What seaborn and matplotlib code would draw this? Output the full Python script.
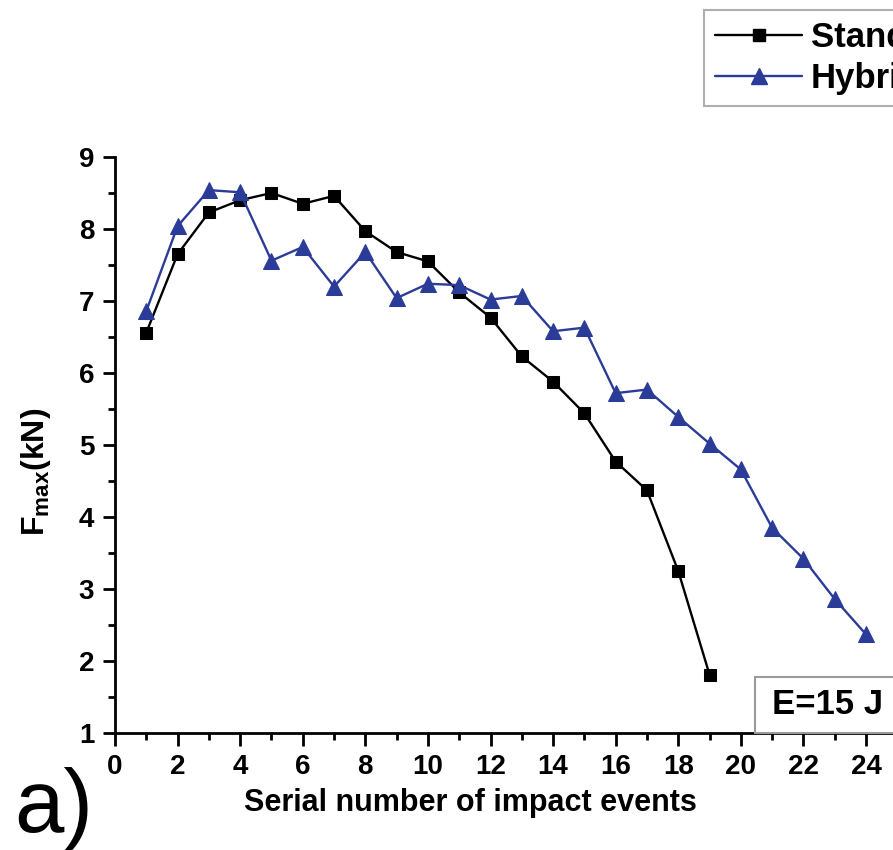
import matplotlib
matplotlib.use("Agg")
import matplotlib.pyplot as plt
import seaborn as sns
import pandas as pd
from matplotlib.patches import Rectangle
from matplotlib.lines import Line2D

# ---- data ----
std_events = list(range(1, 20))
std_fmax = [6.56, 7.65, 8.23, 8.40, 8.50, 8.35, 8.46, 7.97, 7.68, 7.55,
            7.12, 6.77, 6.23, 5.88, 5.44, 4.77, 4.37, 3.25, 1.81]
hyb_events = list(range(1, 25))
hyb_fmax = [6.86, 8.04, 8.54, 8.51, 7.56, 7.75, 7.20, 7.68, 7.04, 7.24,
            7.22, 7.02, 7.07, 6.58, 6.63, 5.72, 5.77, 5.39, 5.02, 4.66,
            3.85, 3.42, 2.86, 2.37]
series_names = ["Standard", "Hybrid"]
x_ticks = list(range(0, 25, 2))
y_ticks = list(range(1, 10))

sns.set_theme(style="ticks")
plt.rcParams["font.family"] = ["Liberation Sans", "DejaVu Sans"]
plt.rcParams["mathtext.fontset"] = "custom"
plt.rcParams["mathtext.rm"] = "Liberation Sans"
plt.rcParams["mathtext.bf"] = "Liberation Sans:bold"
plt.rcParams["text.color"] = "black"
plt.rcParams["axes.labelcolor"] = "black"
plt.rcParams["legend.labelcolor"] = "black"

BLACK = "#000000"
BLUE = "#2B3C98"

fig = plt.figure(figsize=(8.93, 8.50), dpi=100)
W, H = 893, 850
x0, xe = 115, 866          # pixel of x=0 and x=24
px_per_x = (xe - x0) / 24
ax_w_px = W - x0
ax_h_px = 733 - 157
ax = fig.add_axes([x0 / W, (H - 733) / H, ax_w_px / W, ax_h_px / H])

df_s = pd.DataFrame({"event": std_events, "F": std_fmax})
df_h = pd.DataFrame({"event": hyb_events, "F": hyb_fmax})

sns.lineplot(data=df_s, x="event", y="F", ax=ax, color=BLACK, marker="s",
             markersize=9, markeredgecolor=BLACK, linewidth=1.7, clip_on=False)
sns.lineplot(data=df_h, x="event", y="F", ax=ax, color=BLUE, marker="^",
             markersize=11, markeredgecolor=BLUE, linewidth=1.7, clip_on=False)

ax.set_xlim(0, ax_w_px / px_per_x)
ax.set_ylim(1, 9)
ax.set_xticks(x_ticks)
ax.set_yticks(y_ticks)
ax.set_xticks(range(1, 25, 2), minor=True)
ax.set_yticks([v + 0.5 for v in y_ticks[:-1]], minor=True)
for lab in ax.get_xticklabels() + ax.get_yticklabels():
    lab.set_fontweight("bold")
ax.tick_params(axis="both", which="major", direction="out", length=9, width=2,
               labelsize=20, color=BLACK, labelcolor=BLACK, pad=6)
ax.tick_params(axis="both", which="minor", direction="out", length=5, width=2,
               color=BLACK)
for s in ["top", "right"]:
    ax.spines[s].set_visible(False)
for s in ["left", "bottom"]:
    ax.spines[s].set_linewidth(2)
    ax.spines[s].set_color(BLACK)

ax.set_xlabel("Serial number of impact events", fontsize=22, fontweight="bold",
              color=BLACK)
ax.xaxis.set_label_coords((470 - x0) / ax_w_px, -(803 - 733) / ax_h_px)
ax.xaxis.label.set_verticalalignment("center")
ax.set_ylabel(r"$\mathbf{F_{max}(kN)}$", fontsize=23, color=BLACK)
ax.yaxis.set_label_coords(-(x0 - 36) / ax_w_px, (733 - 472) / ax_h_px)
ax.yaxis.label.set_verticalalignment("center")

# E=15 J box
ax.add_patch(Rectangle(((755 - x0) / px_per_x, 1), 8, 9 - (677 - 157) / 72 - 1,
                       transform=ax.transData, facecolor="white",
                       edgecolor="#9a9a9a", linewidth=1.5, clip_on=False, zorder=5))
ax.text((772 - x0) / px_per_x, 9 - (705 - 157) / 72, "E=15 J", fontsize=25,
        fontweight="bold", va="center", ha="left", zorder=6, color=BLACK)

# legend
handles = [Line2D([], [], color=BLACK, marker="s", markersize=9, linewidth=1.7),
           Line2D([], [], color=BLUE, marker="^", markersize=11, linewidth=1.7)]
leg = fig.legend(handles, series_names, loc="upper left",
                 bbox_to_anchor=(704 / W, 1 - 10 / H), frameon=True,
                 fancybox=False, handlelength=2.5, handletextpad=0.25,
                 labelspacing=0.22, borderpad=0.32, borderaxespad=0,
                 prop={"weight": "bold", "size": 25}, labelcolor=BLACK)
leg.get_frame().set_edgecolor("#9a9a9a")
leg.get_frame().set_linewidth(1.5)

fig.text(14 / W, (H - 832) / H, "a)", fontsize=64, ha="left", va="baseline",
         color=BLACK)

fig.savefig("out.png", dpi=100)
